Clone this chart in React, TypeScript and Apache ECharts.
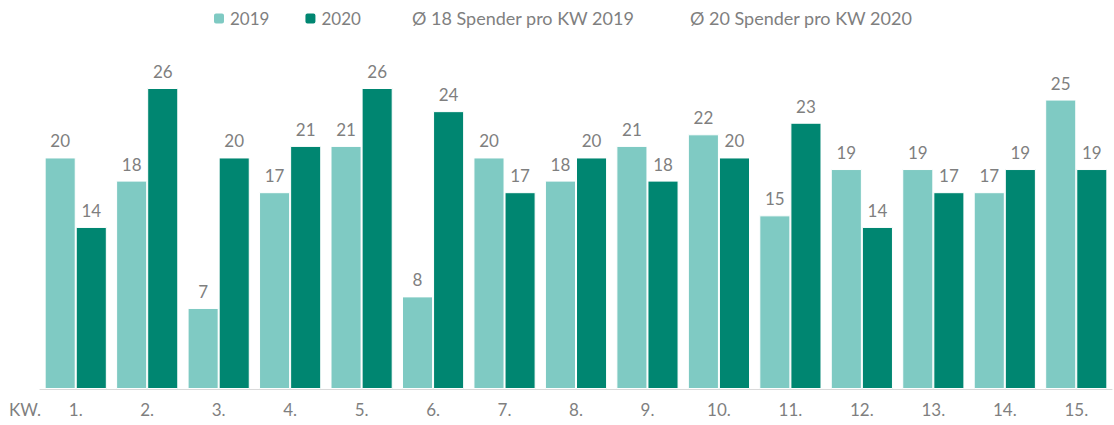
import React, { useEffect, useRef } from "react";
import * as echarts from "echarts";

const categories = ["1.", "2.", "3.", "4.", "5.", "6.", "7.", "8.", "9.", "10.", "11.", "12.", "13.", "14.", "15."];
const values2019 = [20, 18, 7, 17, 21, 8, 20, 18, 21, 22, 15, 19, 19, 17, 25];
const values2020 = [14, 26, 20, 21, 26, 24, 17, 20, 18, 20, 23, 14, 17, 19, 19];
const avgName2019 = "Ø 18 Spender pro KW 2019";
const avgName2020 = "Ø 20 Spender pro KW 2020";
const axisTitle = "KW.";

const LIGHT = "#7fcac3";
const DARK = "#008671";
const GRAY = "#7f7f7f";
const FONT = "Lato";

export default function App() {
  const ref = useRef<HTMLDivElement>(null);
  useEffect(() => {
    if (!ref.current) return;
    const chart = echarts.init(ref.current, null, { renderer: "svg" });
    const label = {
      show: true,
      position: "top",
      distance: 8,
      color: GRAY,
      fontSize: 17,
      fontFamily: FONT,
    };
    chart.setOption({
      animation: false,
      textStyle: { fontFamily: FONT },
      legend: [
        {
          data: ["2019", "2020"],
          left: 212,
          top: 10,
          padding: 0,
          itemWidth: 12,
          itemHeight: 12,
          itemGap: 34,
          textStyle: { color: GRAY, fontSize: 17, fontFamily: FONT },
          selectedMode: false,
        },
        {
          data: [{ name: avgName2019, icon: "none" }],
          left: 407,
          top: 9,
          padding: 0,
          itemWidth: 0,
          textStyle: { color: GRAY, fontSize: 18, fontFamily: FONT },
          selectedMode: false,
        },
        {
          data: [{ name: avgName2020, icon: "none" }],
          left: 685,
          top: 9,
          padding: 0,
          itemWidth: 0,
          textStyle: { color: GRAY, fontSize: 18, fontFamily: FONT },
          selectedMode: false,
        },
      ],
      grid: { left: 40, right: 2, top: 88, bottom: 36, containLabel: false },
      xAxis: {
        type: "category",
        data: categories,
        axisLine: { lineStyle: { color: "#d9d9d9", width: 1 } },
        axisTick: { show: false },
        axisLabel: { color: GRAY, fontSize: 17, margin: 12, fontFamily: FONT },
      },
      yAxis: {
        type: "value",
        min: 0,
        max: 26,
        show: false,
        splitLine: { show: false },
      },
      graphic: [
        {
          type: "text",
          left: 9,
          top: 401,
          style: { text: axisTitle, fill: GRAY, fontSize: 17, fontFamily: FONT },
        },
      ],
      series: [
        {
          name: "2019",
          type: "bar",
          data: values2019,
          barGap: "0%",
          barCategoryGap: "13%",
          itemStyle: { color: LIGHT, borderColor: "#ffffff", borderWidth: 1 },
          label,
        },
        {
          name: "2020",
          type: "bar",
          data: values2020,
          barGap: "0%",
          barCategoryGap: "13%",
          itemStyle: { color: DARK, borderColor: "#ffffff", borderWidth: 1 },
          label,
        },
        { name: avgName2019, type: "line", data: [], itemStyle: { color: "transparent" } },
        { name: avgName2020, type: "line", data: [], itemStyle: { color: "transparent" } },
      ],
    });
    return () => chart.dispose();
  }, []);
  return <div ref={ref} style={{ width: 1114, height: 425, position: "absolute", left: 0, top: 0 }} />;
}
